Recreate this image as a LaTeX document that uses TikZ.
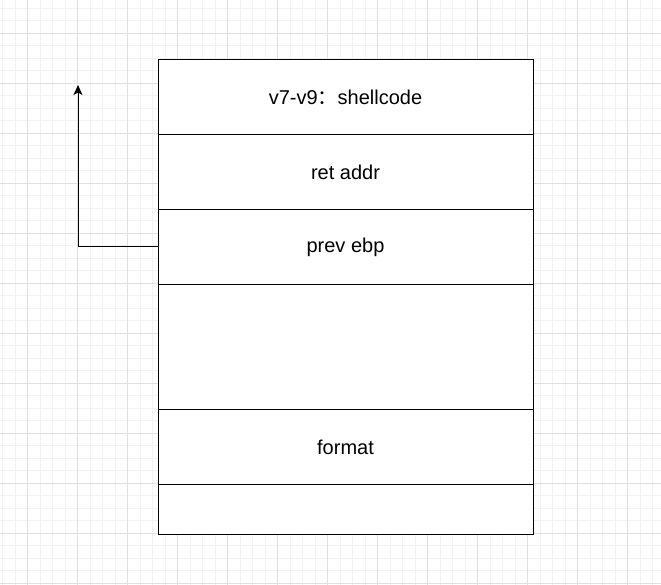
\documentclass[tikz,border=0pt]{standalone}
\usepackage{fontspec}
\setmainfont{Liberation Sans}
\newfontfamily\cjk{Noto Sans CJK SC}
\usetikzlibrary{arrows.meta}
\begin{document}
\begin{tikzpicture}[x=1pt,y=-1pt,
  minorgrid/.style={draw=black!5, line width=1pt},
  majorgrid/.style={draw=black!12, line width=1pt},
  cell/.style={draw=black, line width=1pt, fill=white, minimum width=375pt, inner sep=0pt, anchor=north, font=\fontsize{20pt}{24pt}\selectfont},
  link/.style={draw=black, line width=1pt, -{Stealth[length=10pt,width=9pt,inset=2.5pt]}}]
\useasboundingbox (0,0) rectangle (661,585);
\fill[white] (0,0) rectangle (661,585);
\foreach \x in {2.5,15,...,660} \draw[minorgrid] (\x,0) -- (\x,585);
\foreach \y in {8.3,20.8,...,585} \draw[minorgrid] (0,\y) -- (661,\y);
\foreach \x in {27.5,77.5,...,660} \draw[majorgrid] (\x,0) -- (\x,585);
\foreach \y in {33.3,83.3,...,585} \draw[majorgrid] (0,\y) -- (661,\y);
\node[cell, minimum height=75pt] (shell) at (345.5,59) {v7-v9{\cjk ：}shellcode};
\node[cell, minimum height=75pt] (ret) at (345.5,134) {ret addr};
\node[cell, minimum height=75pt] (ebp) at (345.5,209) {prev ebp};
\node[cell, minimum height=125pt] (blank) at (345.5,284) {};
\node[cell, minimum height=75pt] (fmt) at (345.5,409) {format};
\node[cell, minimum height=50pt] (bottom) at (345.5,484) {};
\coordinate (tip) at (78,85);
\draw[link] (ebp.west) -| (tip);
\end{tikzpicture}
\end{document}
